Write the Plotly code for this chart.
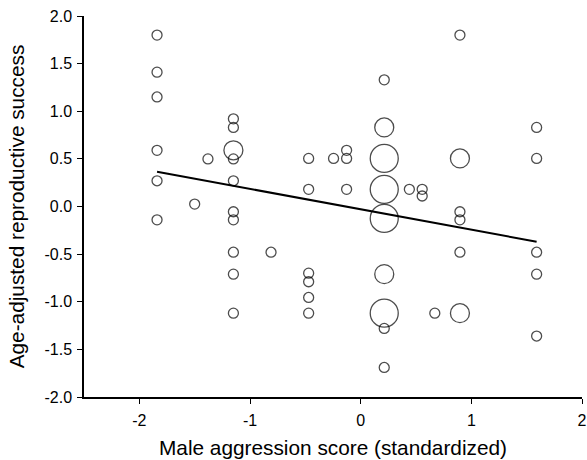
import plotly.graph_objects as go

# Data
agg_x = [-1.84, -1.84, -1.84, -1.84, -1.84, -1.84,
         -1.50, -1.38,
         -1.15, -1.15, -1.15, -1.15, -1.15, -1.15, -1.15, -1.15, -1.15, -1.15,
         -0.81,
         -0.47, -0.47, -0.47, -0.47, -0.47, -0.47,
         -0.245,
         -0.127, -0.127, -0.127,
         0.213, 0.213, 0.213, 0.213, 0.213, 0.213, 0.213, 0.213, 0.213,
         0.44, 0.556, 0.556, 0.67,
         0.897, 0.897, 0.897, 0.897, 0.897, 0.897,
         1.59, 1.59, 1.59, 1.59, 1.59]
rs_y = [1.80, 1.41, 1.15, 0.59, 0.27, -0.14,
        0.025, 0.50,
        0.92, 0.83, 0.59, 0.50, 0.27, -0.055, -0.14, -0.48, -0.71, -1.12,
        -0.48,
        0.505, 0.18, -0.70, -0.79, -0.955, -1.12,
        0.505,
        0.59, 0.505, 0.18,
        1.33, 0.83, 0.505, 0.18, -0.125, -0.71, -1.12, -1.28, -1.69,
        0.18, 0.18, 0.11, -1.12,
        1.80, 0.505, -0.055, -0.14, -0.48, -1.12,
        0.83, 0.505, -0.48, -0.71, -1.36]
count_n = [1, 1, 1, 1, 1, 1,
           1, 1,
           1, 1, 2, 1, 1, 1, 1, 1, 1, 1,
           1,
           1, 1, 1, 1, 1, 1,
           1,
           1, 1, 1,
           1, 2, 3, 3, 3, 2, 3, 1, 1,
           1, 1, 1, 1,
           1, 2, 1, 1, 1, 2,
           1, 1, 1, 1, 1]

line_x = [-1.84, 1.59]
line_y = [0.365, -0.37]

x_ticks = [-2, -1, 0, 1, 2]
y_ticks = [-2.0, -1.5, -1.0, -0.5, 0.0, 0.5, 1.0, 1.5, 2.0]

sizes = [1 + 9 * n for n in count_n]

fig = go.Figure()
fig.add_trace(go.Scatter(
    x=agg_x, y=rs_y, mode="markers",
    marker=dict(symbol="circle-open", size=sizes, color="black",
                line=dict(color="black", width=1.3)),
    showlegend=False, hoverinfo="skip"))
fig.add_trace(go.Scatter(
    x=line_x, y=line_y, mode="lines",
    line=dict(color="black", width=2), showlegend=False, hoverinfo="skip"))

font_family = "Liberation Sans, Arial, sans-serif"
fig.update_layout(
    width=587, height=460,
    margin=dict(l=84, r=5, t=16, b=63),
    paper_bgcolor="white", plot_bgcolor="white",
    font=dict(family=font_family, color="black", size=15),
)
fig.update_xaxes(
    range=[-2.5, 2], tickvals=x_ticks, ticktext=[str(v) for v in x_ticks],
    showline=True, linecolor="black", linewidth=1.5, mirror=False,
    ticks="outside", ticklen=5, tickwidth=1.3, tickcolor="black",
    showgrid=False, zeroline=False, automargin=False,
    ticklabelstandoff=3, ticklabeloverflow="allow",
    tickfont=dict(size=16),
    title=dict(text="Male aggression score (standardized)", font=dict(size=20.8), standoff=12),
)
fig.update_yaxes(
    range=[-2, 2], tickvals=y_ticks, ticktext=[f"{v:.1f}" for v in y_ticks],
    showline=True, linecolor="black", linewidth=1.5, mirror=False,
    ticks="outside", ticklen=5, tickwidth=1.3, tickcolor="black",
    showgrid=False, zeroline=False, automargin=False,
    ticklabelstandoff=2, ticklabeloverflow="allow",
    tickfont=dict(size=16),
    title=dict(text="Age-adjusted reproductive success", font=dict(size=20.8), standoff=14),
)

fig.write_html("out.html", config={"displayModeBar": False},
               post_script="document.body.style.margin='0px';")
